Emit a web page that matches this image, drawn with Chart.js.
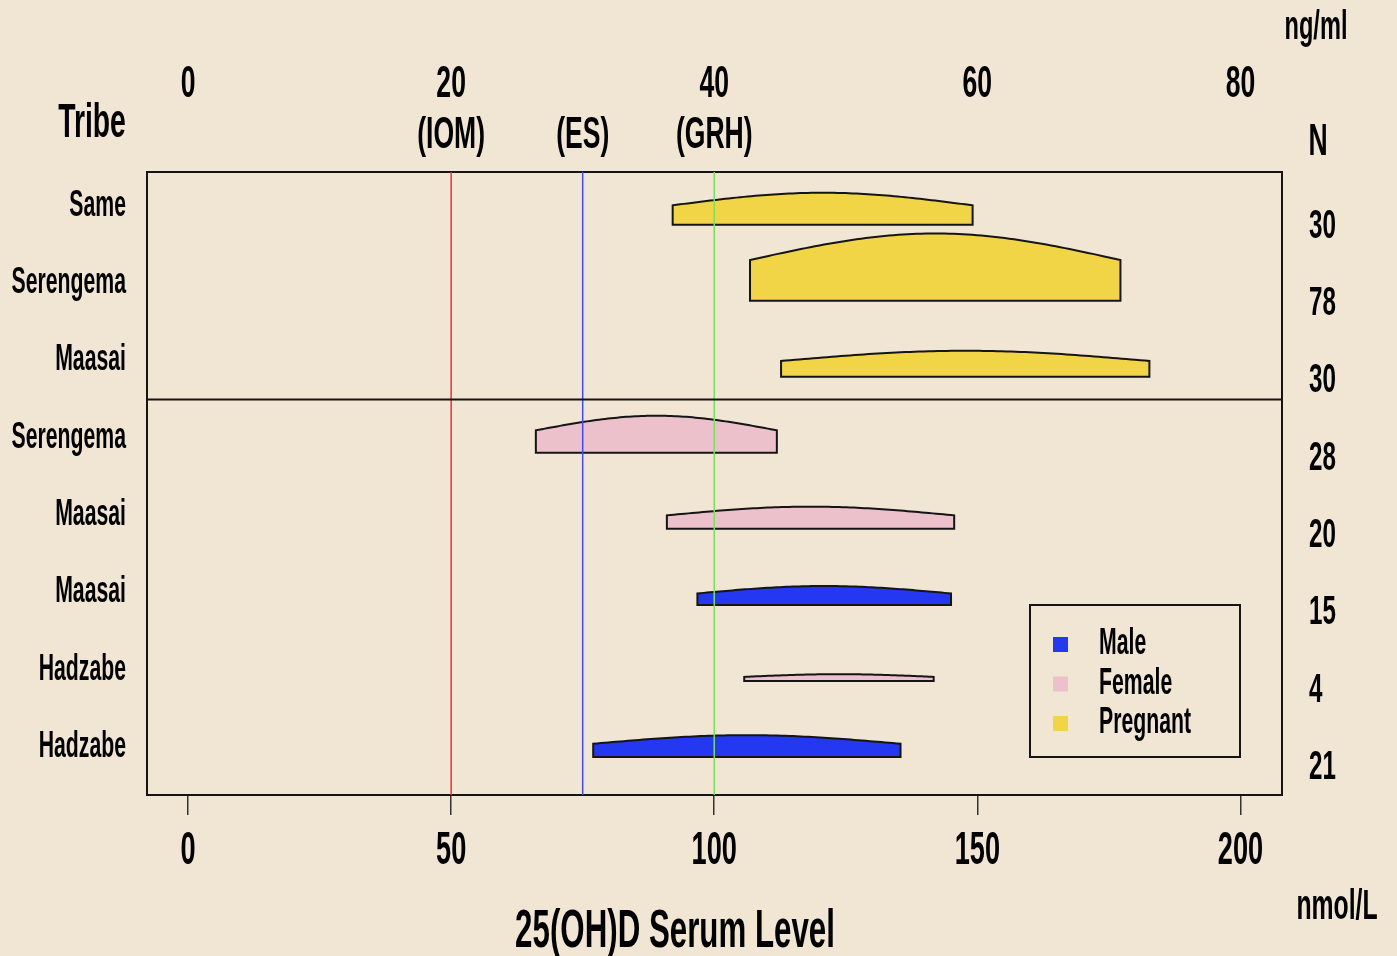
<!DOCTYPE html>
<html>
<head>
<meta charset="utf-8">
<title>25(OH)D Serum Level by Tribe</title>
<script src="https://cdn.jsdelivr.net/npm/chart.js@4.4.1/dist/chart.umd.min.js"></script>
<style>
  html, body { margin: 0; padding: 0; background: #f1e6d3; }
  #wrap { width: 1397px; height: 956px; }
</style>
</head>
<body>
<div id="wrap"><canvas id="chart"></canvas></div>
<script>
// rows, top to bottom
const tribes = ['Same', 'Serengema', 'Maasai', 'Serengema', 'Maasai', 'Maasai', 'Hadzabe', 'Hadzabe'];
const groups = ['Pregnant', 'Pregnant', 'Pregnant', 'Female', 'Female', 'Male', 'Female', 'Male'];
const counts = [30, 78, 30, 28, 20, 15, 4, 21];
// mean and SD of 25(OH)D in nmol/L
const means = [120.6, 142.0, 147.7, 89.0, 118.3, 120.9, 123.7, 106.2];
const sds = [28.5, 35.2, 35.0, 22.9, 27.3, 24.1, 18.0, 29.2];

const nmolTicks = [0, 50, 100, 150, 200];
const ngmlTicks = ['0', '20', '40', '60', '80'];
const cutoffs = [50, 75, 100];
const cutoffNames = ['(IOM)', '(ES)', '(GRH)'];
const legendGroups = ['Male', 'Female', 'Pregnant'];

const groupColors = { Male: '#2338f0', Female: '#ecc1cc', Pregnant: '#f2d447' };
const cutoffColors = ['#e3343f', '#3b4cf0', '#7ae05c'];
const FONT = "'Liberation Sans', Arial, sans-serif";

// the original uses a very condensed face, so squeeze all canvas text
const SQUEEZE = 0.59;
const fillTextOrig = CanvasRenderingContext2D.prototype.fillText;
CanvasRenderingContext2D.prototype.fillText = function(text, x, y) {
  this.save();
  this.translate(x, y);
  this.scale(SQUEEZE, 1);
  fillTextOrig.call(this, text, 0, 0);
  this.restore();
};

// top axis: ng/ml numbers with the cut-off names underneath
const topValues = [0, 50, 75, 100, 150, 200];
const topLabels = topValues.map(v => {
  const n = nmolTicks.indexOf(v);
  const c = cutoffs.indexOf(v);
  return [n >= 0 ? ngmlTicks[n] : '', c >= 0 ? cutoffNames[c] : ''];
});

const datasets = legendGroups.map(g => ({
  label: g,
  yAxisID: 'yRows',
  data: means.map((m, i) => ({ x: m, y: i })).filter((p, i) => groups[i] === g),
  pointRadius: 0,
  showLine: false,
  backgroundColor: groupColors[g]
}));

function text(ctx, str, x, y, size, align) {
  ctx.font = 'bold ' + size + 'px ' + FONT;
  ctx.textAlign = align || 'center';
  ctx.textBaseline = 'alphabetic';
  ctx.fillStyle = '#000';
  ctx.fillText(str, x, y);
}

const domePlugin = {
  id: 'domes',
  afterDatasetsDraw(chart) {
    const { ctx, chartArea: a, scales: { x, yRows } } = chart;
    ctx.save();

    // N * normal density over mean +/- 1 SD, sitting on the row baseline
    tribes.forEach((t, i) => {
      const lo = means[i] - sds[i];
      const hi = means[i] + sds[i];
      const dens = v => counts[i] * Math.exp(-0.5 * Math.pow((v - means[i]) / sds[i], 2)) /
        (sds[i] * Math.sqrt(2 * Math.PI));
      ctx.beginPath();
      ctx.moveTo(x.getPixelForValue(lo), yRows.getPixelForValue(i));
      for (let s = 0; s <= 80; s++) {
        const v = lo + (hi - lo) * s / 80;
        ctx.lineTo(x.getPixelForValue(v), yRows.getPixelForValue(i - dens(v)));
      }
      ctx.lineTo(x.getPixelForValue(hi), yRows.getPixelForValue(i));
      ctx.closePath();
      ctx.fillStyle = groupColors[groups[i]];
      ctx.fill();
      ctx.strokeStyle = '#151515';
      ctx.lineWidth = 2;
      ctx.stroke();
    });

    // cut-off lines
    cutoffs.forEach((v, i) => {
      const px = x.getPixelForValue(v);
      ctx.strokeStyle = cutoffColors[i];
      ctx.lineWidth = 1.5;
      ctx.beginPath();
      ctx.moveTo(px, a.top);
      ctx.lineTo(px, a.bottom);
      ctx.stroke();
    });

    // divider between pregnant and non-pregnant rows
    const sy = yRows.getPixelForValue(2.3);
    ctx.strokeStyle = '#151515';
    ctx.lineWidth = 2;
    ctx.beginPath();
    ctx.moveTo(a.left, sy);
    ctx.lineTo(a.right, sy);
    ctx.stroke();
    ctx.restore();
  },
  afterDraw(chart) {
    const ctx = chart.ctx;
    ctx.save();

    // legend
    ctx.strokeStyle = '#151515';
    ctx.lineWidth = 2;
    ctx.strokeRect(1030, 605, 210, 152);
    legendGroups.forEach((g, i) => {
      ctx.fillStyle = groupColors[g];
      ctx.fillRect(1053, 637 + i * 39.5, 15, 15);
      text(ctx, g, 1099, 654 + i * 39.5, 36, 'left');
    });

    // axis titles
    text(ctx, 'Tribe', 92, 137, 48);
    text(ctx, 'N', 1318, 155, 45);
    text(ctx, 'ng/ml', 1316, 39, 40);
    text(ctx, 'nmol/L', 1337, 919, 42);
    text(ctx, '25(OH)D Serum Level', 675, 947, 53);
    ctx.restore();
  }
};

const tickFont = size => ({ family: FONT, weight: 'bold', size: size });

new Chart(document.getElementById('chart'), {
  type: 'scatter',
  data: { datasets: datasets },
  options: {
    responsive: true,
    maintainAspectRatio: false,
    animation: false,
    layout: { padding: 0 },
    plugins: { legend: { display: false }, tooltip: { enabled: false } },
    scales: {
      x: {
        type: 'linear',
        position: 'bottom',
        min: -7.8,
        max: 207.9,
        afterBuildTicks: s => { s.ticks = nmolTicks.map(v => ({ value: v })); },
        afterFit: s => { s.height = 161; },
        grid: { drawOnChartArea: false, drawTicks: true, tickLength: 20, color: '#333', lineWidth: 1.5 },
        border: { display: true, color: '#151515', width: 2 },
        ticks: { color: '#000', font: tickFont(46), padding: 9, maxRotation: 0, autoSkip: false }
      },
      x2: {
        type: 'linear',
        position: 'top',
        min: -7.8,
        max: 207.9,
        afterBuildTicks: s => { s.ticks = topValues.map(v => ({ value: v })); },
        afterFit: s => { s.height = 172; },
        grid: { display: false, drawTicks: false },
        border: { display: true, color: '#151515', width: 2 },
        ticks: {
          color: '#000',
          font: { family: FONT, weight: 'bold', size: 45, lineHeight: 51 / 45 },
          padding: 11,
          maxRotation: 0,
          autoSkip: false,
          callback: (v, i) => topLabels[i]
        }
      },
      // row baselines for the density shapes
      yRows: {
        type: 'linear',
        axis: 'y',
        position: 'left',
        display: false,
        reverse: true,
        min: -0.693,
        max: 7.5
      },
      // tribe names sit on a slightly wider row pitch than the shapes
      y: {
        type: 'linear',
        position: 'left',
        reverse: true,
        min: -0.436,
        max: 7.621,
        afterBuildTicks: s => { s.ticks = tribes.map((t, i) => ({ value: i })); },
        afterFit: s => { s.width = 147; },
        grid: { display: false, drawTicks: false },
        border: { display: true, color: '#151515', width: 2 },
        ticks: {
          color: '#000',
          font: tickFont(36),
          padding: 21,
          autoSkip: false,
          callback: (v, i) => tribes[i]
        }
      },
      y2: {
        type: 'linear',
        position: 'right',
        reverse: true,
        min: -0.705,
        max: 7.352,
        afterBuildTicks: s => { s.ticks = counts.map((n, i) => ({ value: i })); },
        afterFit: s => { s.width = 115; },
        grid: { display: false, drawTicks: false },
        border: { display: true, color: '#151515', width: 2 },
        ticks: {
          color: '#000',
          font: tickFont(41),
          padding: 27,
          autoSkip: false,
          callback: (v, i) => String(counts[i])
        }
      }
    }
  },
  plugins: [domePlugin]
});
</script>
</body>
</html>
